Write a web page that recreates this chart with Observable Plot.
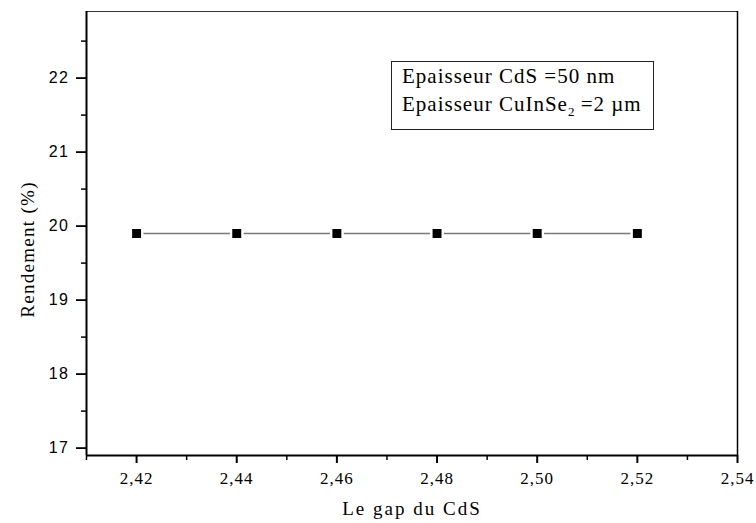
<!DOCTYPE html>
<html><head><meta charset="utf-8">
<script src="https://cdn.jsdelivr.net/npm/d3@7"></script>
<script src="https://cdn.jsdelivr.net/npm/@observablehq/plot@0.6"></script>
<style>
body{margin:0;background:#fff;}
#wrap{position:relative;width:756px;height:523px;}
#legend{position:absolute;left:391px;top:61px;width:263px;height:69px;border:1px solid #222;box-sizing:border-box;
 font-family:"Liberation Serif","Times New Roman",serif;font-size:21px;letter-spacing:1px;color:#000;}
#legend div{position:absolute;left:10px;white-space:nowrap;}
#legend sub{font-size:13px;vertical-align:-5px;line-height:0;letter-spacing:0;}
g[font-size="19"] text{letter-spacing:2px;}
g[font-size="19px"] text{letter-spacing:1.3px;}
g[font-size="17"] text{letter-spacing:1px;}
g[font-size="16"] text{letter-spacing:1.5px;}
</style></head>
<body><div id="wrap"><div id="legend"><div style="top:2px">Epaisseur CdS =50 nm</div><div style="top:30px">Epaisseur CuInSe<sub>2</sub> =2 µm</div></div></div>
<script>
const gap = [2.42, 2.44, 2.46, 2.48, 2.50, 2.52];
const rendement = [19.9, 19.9, 19.9, 19.9, 19.9, 19.9];
const xMajor = [2.42, 2.44, 2.46, 2.48, 2.50, 2.52, 2.54];
const xMinor = [2.41, 2.43, 2.45, 2.47, 2.49, 2.51, 2.53];
const yMajor = [17, 18, 19, 20, 21, 22];
const yMinor = [17.5, 18.5, 19.5, 20.5, 21.5, 22.5];
const xDomain = [2.41, 2.54];
const yDomain = [16.9, 22.9];
const xTitle = "Le gap du CdS";
const yTitle = "Rendement (%)";

const data = gap.map((g, i) => ({gap: g, r: rendement[i]}));
const serif = "'Liberation Serif','Times New Roman',serif";
const sans = "'Liberation Sans',Arial,sans-serif";

const chart = Plot.plot({
  width: 756, height: 523,
  marginLeft: 86, marginRight: 19, marginTop: 11, marginBottom: 68,
  x: {domain: xDomain},
  y: {domain: yDomain},
  style: {background: "transparent", color: "#000"},
  marks: [
    Plot.frame({stroke: "#333", strokeWidth: 1}),
    Plot.ruleX([xDomain[1]], {stroke: "#000", strokeWidth: 1.5}),
    Plot.ruleY([yDomain[0]], {stroke: "#000", strokeWidth: 2}),
    Plot.ruleX([xDomain[0]], {stroke: "#000", strokeWidth: 2}),
    Plot.axisX({ticks: xMajor, tickSize: 8, strokeWidth: 2, tickFormat: () => "", label: null}),
    Plot.axisX({ticks: xMinor, tickSize: 5, strokeWidth: 1.5, tickFormat: () => "", label: null}),
    Plot.axisY({ticks: yMajor, tickSize: 10, strokeWidth: 1.8, tickFormat: () => "", label: null}),
    Plot.axisY({ticks: yMinor, tickSize: 5, strokeWidth: 1.5, tickFormat: () => "", label: null}),
    Plot.text(xMajor, {x: d => d, frameAnchor: "bottom", lineAnchor: "bottom", dy: 28,
      text: d => d.toFixed(2).replace(".", ","), fontFamily: serif, fontSize: 17, fill: "#000"}),
    Plot.text(yMajor, {y: d => d, frameAnchor: "left", textAnchor: "end", lineAnchor: "middle", dx: -17,
      text: d => String(d), fontFamily: sans, fontSize: 16, fill: "#000"}),
    Plot.text([xTitle], {frameAnchor: "bottom", textAnchor: "middle", lineAnchor: "bottom", dy: 59, text: d => d,
      fontFamily: serif, fontSize: 19, fill: "#000"}),
    Plot.text([yTitle], {frameAnchor: "left", textAnchor: "middle", lineAnchor: "bottom", rotate: -90, dx: -53, dy: 16,
      text: d => d, fontFamily: serif, fontSize: "19px", fill: "#000"}),
    Plot.line(data, {x: "gap", y: "r", stroke: "#7a7a7a", strokeWidth: 1.4}),
    Plot.dot(data, {x: "gap", y: "r", symbol: "square", r: 6.4, fill: "#000", stroke: "#fff", strokeWidth: 2.4})
  ]
});
document.getElementById("wrap").prepend(chart);
</script></body></html>
